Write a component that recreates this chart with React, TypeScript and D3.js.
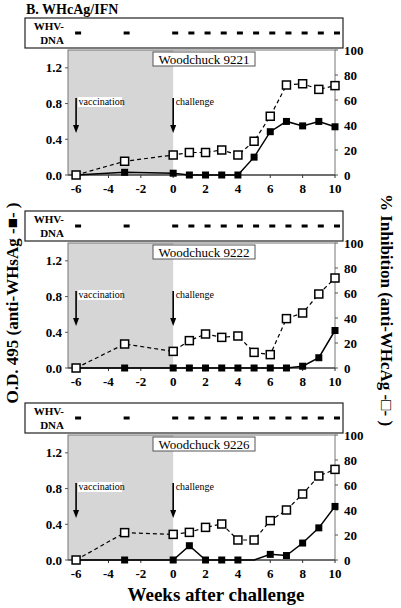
import React from "react";
import * as d3 from "d3";

const weeks = [-6, -3, 0, 1, 2, 3, 4, 5, 6, 7, 8, 9, 10];
const dnaWeeks = [-6, -3, 0, 1, 2, 3, 4, 5, 6, 7, 8, 9, 10];
const xTicks = [-6, -4, -2, 0, 2, 4, 6, 8, 10];
const leftTicks = [0, 0.4, 0.8, 1.2];
const rightTicks = [0, 20, 40, 60, 80, 100];

const names = ["Woodchuck 9221", "Woodchuck 9222", "Woodchuck 9226"];
const inhib9221 = [0, 11, 16, 18, 18, 20, 16, 27, 47, 72, 73, 68.5, 71.5];
const od9221 = [0, 0.03, 0.02, 0, 0, 0, 0, 0.2, 0.485, 0.6, 0.55, 0.6, 0.54];
const inhib9222 = [0, 19.2, 13.3, 21.9, 27.2, 24.5, 25.6, 12.5, 10.7, 39.5, 44, 59.2, 72];
const od9222 = [0, 0, 0, 0, 0, 0, 0, 0, 0, 0, 0.02, 0.115, 0.42];
const inhib9226 = [0, 21.9, 20.5, 22.1, 26.1, 28.8, 16, 16, 31.5, 40, 52.8, 67.2, 72.5];
const od9226 = [0, 0, 0, 0.16, 0, 0, 0, 0, 0.063, 0.05, 0.19, 0.36, 0.6];
const odHidden = [[], [], [7]];

const inhibAll = [inhib9221, inhib9222, inhib9226];
const odAll = [od9221, od9222, od9226];
const offsets = [0, 193, 385];

const SERIF = "'Liberation Serif', 'Times New Roman', serif";

const x = d3.scaleLinear().domain([-6.5, 10]).range([68, 335]);

function Panel({ idx }: { idx: number }) {
  const off = offsets[idx];
  const top = 50 + off;
  const bottom = 175 + off;
  const yL = d3.scaleLinear().domain([0, 1.4]).range([bottom, top]);
  const yR = d3.scaleLinear().domain([0, 100]).range([bottom, top]);
  const inhib = inhibAll[idx];
  const od = odAll[idx];
  const odLine = d3.line<number>().x((_, i) => x(weeks[i])).y((d) => yL(d));
  const inLine = d3.line<number>().x((_, i) => x(weeks[i])).y((d) => yR(d));
  const arrowTop = top + 48;
  const arrowBot = top + 83;
  return (
    <g>
      {/* WHV-DNA row */}
      <rect x={25} y={18 + off} width={318} height={30} fill="white" stroke="#222" strokeWidth={1.2} />
      <text x={64} y={30 + off} textAnchor="end" fontFamily={SERIF} fontWeight="bold" fontSize={11}>WHV-</text>
      <text x={64} y={44 + off} textAnchor="end" fontFamily={SERIF} fontWeight="bold" fontSize={11}>DNA</text>
      {dnaWeeks.map((w) => (
        <rect key={w} x={x(w) - 1} y={31.5 + off} width={6} height={3} fill="black" />
      ))}
      {/* shaded vaccination period */}
      <rect x={x(-6.5)} y={top} width={x(0) - x(-6.5)} height={bottom - top} fill="#d6d6d6" />
      {/* frame */}
      <rect x={x(-6.5)} y={top} width={x(10) - x(-6.5)} height={bottom - top} fill="none" stroke="#777" strokeWidth={1} />
      <line x1={x(-6.5)} x2={x(10)} y1={bottom} y2={bottom} stroke="#222" strokeWidth={1} />
      {/* left ticks */}
      {leftTicks.map((t) => (
        <g key={t}>
          <line x1={x(-6.5) - 3} x2={x(-6.5)} y1={yL(t)} y2={yL(t)} stroke="#555" />
          <text x={62} y={yL(t) + 4.5} textAnchor="end" fontFamily={SERIF} fontWeight="bold" fontSize={13}>{t.toFixed(1)}</text>
        </g>
      ))}
      {rightTicks.map((t) => (
        <g key={t}>
          <line x1={x(10)} x2={x(10) + 3} y1={yR(t)} y2={yR(t)} stroke="#555" />
          <text x={344} y={yR(t) + 4.5} textAnchor="start" fontFamily={SERIF} fontWeight="bold" fontSize={13}>{t}</text>
        </g>
      ))}
      {xTicks.map((t) => (
        <g key={t}>
          <line x1={x(t)} x2={x(t)} y1={bottom} y2={bottom + 3} stroke="#333" />
          <text x={x(t)} y={bottom + 18} textAnchor="middle" fontFamily={SERIF} fontWeight="bold" fontSize={13}>{t}</text>
        </g>
      ))}
      {/* name box */}
      <rect x={153} y={top + 2} width={102} height={14} fill="white" stroke="#555" strokeWidth={1} />
      <text x={204} y={top + 13.5} textAnchor="middle" fontFamily={SERIF} fontSize={13}>{names[idx]}</text>
      {/* annotations */}
      {[[-6, "vaccination"], [0, "challenge"]].map(([w, label]) => (
        <g key={label as string}>
          <line x1={x(w as number)} x2={x(w as number)} y1={arrowTop} y2={arrowBot - 6} stroke="black" strokeWidth={1.6} />
          <path d={`M${x(w as number) - 3},${arrowBot - 8} L${x(w as number) + 3},${arrowBot - 8} L${x(w as number)},${arrowBot} Z`} fill="black" />
          <rect x={x(w as number) + 2} y={arrowTop - 1} width={label === "vaccination" ? 44 : 38} height={10} fill="white" />
          <text x={x(w as number) + 2.5} y={arrowTop + 6.5} fontFamily={SERIF} fontSize={10}>{label}</text>
        </g>
      ))}
      {/* OD series */}
      <path d={odLine(od) || ""} fill="none" stroke="black" strokeWidth={1.5} />
      {od.map((v, i) =>
        (odHidden[idx] as number[]).includes(i) ? null : (
          <rect key={i} x={x(weeks[i]) - 3.5} y={yL(v) - 3.5} width={7} height={7} fill="black" />
        )
      )}
      {/* inhibition series */}
      <path d={inLine(inhib) || ""} fill="none" stroke="black" strokeWidth={1.2} strokeDasharray="4,3" />
      {inhib.map((v, i) => (
        <rect key={i} x={x(weeks[i]) - 4} y={yR(v) - 4} width={8} height={8} fill="white" stroke="black" strokeWidth={1.5} />
      ))}
    </g>
  );
}

export default function App() {
  return (
    <svg width={401} height={608} style={{ position: "absolute", left: 0, top: 0, background: "white" }}>
      <rect width={401} height={608} fill="white" />
      <text x={26} y={14} fontFamily={SERIF} fontWeight="bold" fontSize={14}>B. WHcAg/IFN</text>
      {[0, 1, 2].map((i) => (
        <Panel key={i} idx={i} />
      ))}
      <text transform="translate(18,303) rotate(-90)" textAnchor="middle" fontFamily={SERIF} fontWeight="bold" fontSize={17}>
        O.D. 495 (anti-WHsAg -■- )
      </text>
      <text transform="translate(381,310) rotate(90)" textAnchor="middle" fontFamily={SERIF} fontWeight="bold" fontSize={17}>
        % Inhibition (anti-WHcAg -□- )
      </text>
      <text x={216} y={601} textAnchor="middle" fontFamily={SERIF} fontWeight="bold" fontSize={19}>Weeks after challenge</text>
    </svg>
  );
}
